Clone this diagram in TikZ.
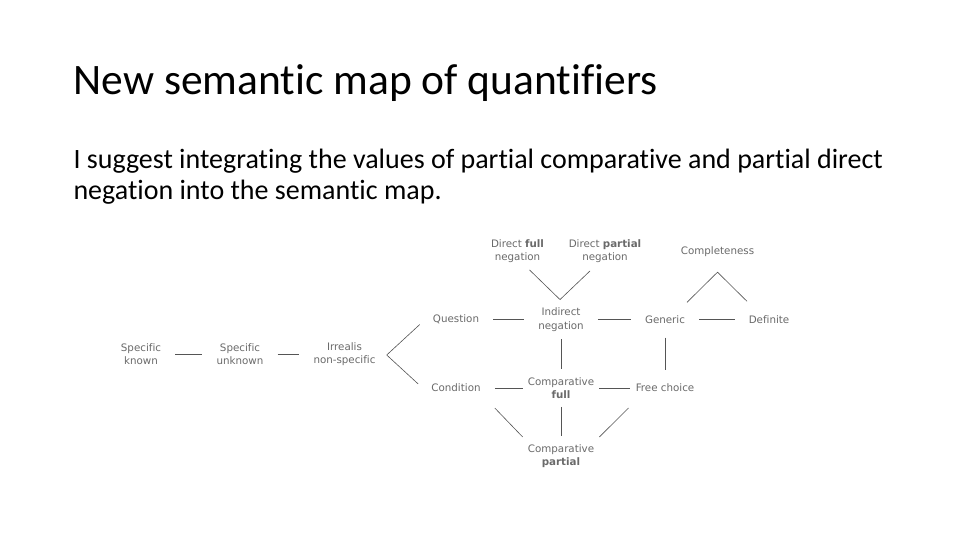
\documentclass[tikz,border=0pt]{standalone}
\usepackage{fontspec}
\setmainfont{Carlito}[Ligatures=NoCommon]
\newfontfamily\mapfont{DejaVu Sans}[Ligatures=NoCommon]
\usepackage{xcolor}
\usetikzlibrary{calc}
\definecolor{valgray}{HTML}{6A6A6A}
\definecolor{linkgray}{HTML}{555555}
\tikzset{
  val/.style={font=\mapfont\fontsize{10.3}{13.5}\selectfont, text=valgray,
    align=center, inner sep=0pt},
  link/.style={draw=linkgray, line width=0.6pt, shorten >=14pt, shorten <=14pt},
  shortlink/.style={link, shorten >=8pt, shorten <=8pt},
  vlink/.style={draw=linkgray, line width=0.6pt}
}
\begin{document}
\begin{tikzpicture}[x=1pt,y=-1pt]
    \useasboundingbox[fill=white] (0,0) rectangle (960,540);
    \node[anchor=base west, font=\fontsize{43.5}{52}\selectfont] (title) at (70,95) {New semantic map of quantifiers};
    \node[anchor=base west, font=\fontsize{28}{30}\selectfont] (body1) at (70,169) {I suggest integrating the values of partial comparative and partial direct};
    \node[anchor=base west, font=\fontsize{28}{30}\selectfont] (body2) at (70,199) {negation into the semantic map.};
    % values of the map
    \node[val] (sk) at (141,354) {Specific\\known};
    \node[val] (su) at (240,354) {Specific\\unknown};
    \node[val] (irr) at (344.5,354) {Irrealis\\non-specific};
    \node[val] (que) at (456,319.5) {Question};
    \node[val] (cond) at (456,388) {Condition};
    \node[val] (dfn) at (517.5,251) {Direct \textbf{full}\\negation};
    \node[val] (dpn) at (605,251) {Direct \textbf{partial}\\negation};
    \node[val] (ind) at (561,319.5) {Indirect\\negation};
    \node[val] (cfull) at (561,388) {Comparative\\\textbf{full}};
    \node[val] (cpart) at (561,456) {Comparative\\\textbf{partial}};
    \node[val] (gen) at (665,319.5) {Generic};
    \node[val] (fc) at (665,388) {Free choice};
    \node[val] (def) at (769,319.5) {Definite};
    \node[val] (comp) at (717.5,252) {Completeness};
    % links
    \draw[link] (sk) -- (su);
    \draw[link] (su) -- (irr);
    \draw[link] (que) -- (ind);
    \draw[link] (ind) -- (gen);
    \draw[link] (gen) -- (def);
    \draw[link, shorten >=5pt] (cond) -- (cfull);
    \draw[link, shorten <=5pt, shorten >=6pt] (cfull) -- (fc);
    \draw[link] (gen) -- (fc);
    \draw[shortlink] (ind) -- (cfull);
    \draw[shortlink] (cfull) -- (cpart);
    \draw[vlink] ($(que.west)+(-13,5)$) -- ($(irr.east)+(11,1)$) -- ($(cond.west)+(-13,-4)$);
    \draw[vlink] ($(dfn.south)+(12,7)$) -- ($(ind.north)+(-1,-8)$) -- ($(dpn.south)+(-15,8)$);
    \draw[vlink] ($(gen.north)+(22,-13)$) -- ($(comp.south)+(0,15)$) -- ($(def.north)+(-22,-14)$);
    \draw[vlink] ($(cond.east)+(14,20)$) -- ($(cpart.west)+(-5,-19)$);
    \draw[vlink] ($(fc.west)+(-7,20)$) -- ($(cpart.east)+(5,-19)$);
\end{tikzpicture}
\end{document}
